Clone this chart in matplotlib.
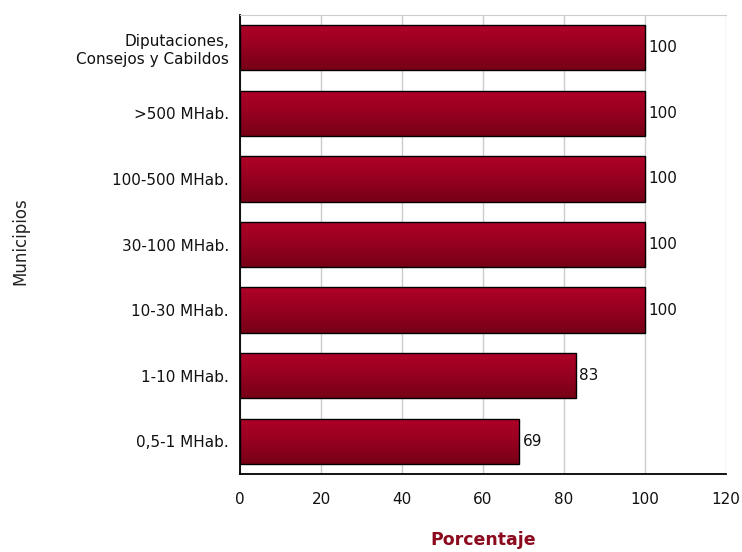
import matplotlib
matplotlib.use("Agg")
import matplotlib.pyplot as plt
import numpy as np
from matplotlib.colors import LinearSegmentedColormap

categories = ["Diputaciones,\nConsejos y Cabildos", ">500 MHab.", "100-500 MHab.",
              "30-100 MHab.", "10-30 MHab.", "1-10 MHab.", "0,5-1 MHab."]
values = [100, 100, 100, 100, 100, 83, 69]
xticks = [0, 20, 40, 60, 80, 100, 120]

plt.rcParams['font.family'] = ['DejaVu Sans']
fig = plt.figure(figsize=(7.42, 5.52), dpi=100)
ax = fig.add_axes([0.3235, 0.1413, 0.655, 0.8315])

y = np.arange(len(categories))
bars = ax.barh(y, values, height=0.69, facecolor='none', edgecolor='black', linewidth=1.0, zorder=3)
cmap = LinearSegmentedColormap.from_list('g', ['#b00028', '#960020', '#760017'])
grad = np.linspace(0, 1, 100).reshape(-1, 1)
for b in bars:
    x0, y0 = b.get_x(), b.get_y()
    w, h = b.get_width(), b.get_height()
    im = ax.imshow(grad, cmap=cmap, aspect='auto', extent=[x0, x0 + w, y0 + h, y0],
                   zorder=2, interpolation='bilinear')
    im.set_clip_path(b)

for yi, v in zip(y, values):
    ax.text(v + 0.8, yi, f"{v}", va='center', ha='left', fontsize=11, color='#111111', zorder=4)

ax.set_xlim(0, 120)
ax.set_ylim(len(categories) - 0.5, -0.5)
ax.set_yticks(y)
ax.set_yticklabels(categories, fontsize=11, color='#111111')
ax.set_xticks(xticks)
ax.set_xticklabels([str(t) for t in xticks], fontsize=11, color='#111111')
ax.tick_params(axis='both', length=0)
ax.tick_params(axis='x', pad=13)
ax.tick_params(axis='y', pad=8)
ax.grid(axis='x', color='#cccccc', linewidth=1.0, zorder=0)
ax.set_axisbelow(True)
ax.spines['top'].set_color('#cccccc')
ax.spines['right'].set_visible(False)
ax.spines['left'].set_linewidth(1.3)
ax.spines['bottom'].set_linewidth(1.3)

ax.set_xlabel("Porcentaje", fontsize=12.5, fontweight='bold', color='#8b0a1e', labelpad=17)
fig.text(0.027, 0.563, "Municipios", rotation=90, va='center', ha='center', fontsize=12, color='#222222')

fig.savefig("out.png", dpi=100)
